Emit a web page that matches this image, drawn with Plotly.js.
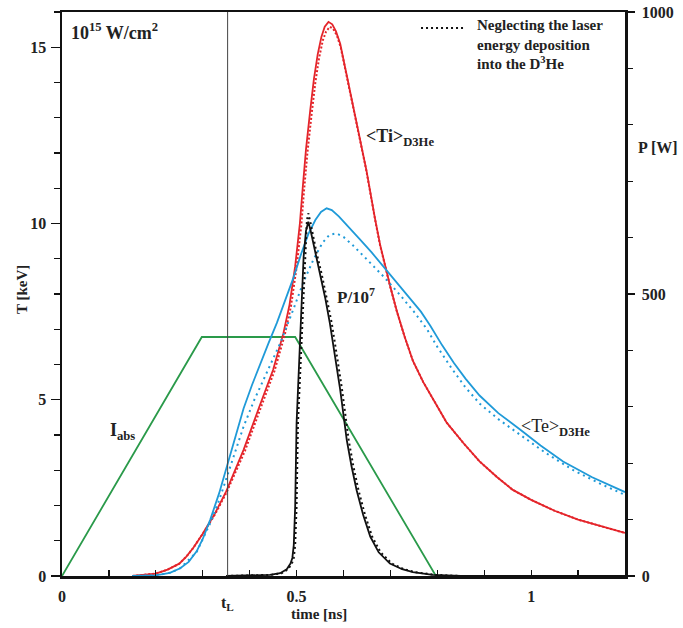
<!DOCTYPE html>
<html>
<head>
<meta charset="utf-8">
<script src="https://cdn.plot.ly/plotly-3.0.1.min.js"></script>
<style>html,body{margin:0;padding:0;background:#fff;}#chart{width:683px;height:628px;}</style>
</head>
<body>
<div id="chart"></div>
<script>
// ---- data (time in ns, T in keV, P in W/1e7) ----
const tL = 0.353;

const iabsTime = [0, 0.298, 0.497, 0.797];
const iabsVal  = [0, 6.78, 6.78, 0];

const tiTime  = [0.15, 0.18, 0.2, 0.225, 0.25, 0.265, 0.28, 0.30, 0.325, 0.35, 0.387, 0.42, 0.45, 0.472, 0.485, 0.497, 0.507, 0.513, 0.52, 0.529, 0.537, 0.545, 0.553, 0.56, 0.568, 0.576, 0.584, 0.593, 0.607, 0.621, 0.635, 0.649, 0.667, 0.678, 0.699, 0.714, 0.73, 0.748, 0.77, 0.791, 0.82, 0.855, 0.89, 0.927, 0.96, 1.0, 1.05, 1.1, 1.15, 1.2];
const tiSolid = [0, 0.03, 0.07, 0.18, 0.35, 0.55, 0.8, 1.2, 1.75, 2.4, 3.58, 4.78, 5.85, 6.89, 7.7, 8.79, 10.0, 11.0, 12.1, 13.2, 14.1, 14.8, 15.3, 15.58, 15.72, 15.65, 15.45, 15.1, 14.2, 13.33, 12.45, 11.5, 10.15, 9.4, 8.25, 7.5, 6.8, 6.1, 5.5, 5.0, 4.35, 3.78, 3.25, 2.81, 2.45, 2.16, 1.85, 1.6, 1.4, 1.22];

const tiDotTime = [0.15, 0.18, 0.2, 0.225, 0.25, 0.265, 0.28, 0.30, 0.325, 0.35, 0.39, 0.423, 0.453, 0.475, 0.488, 0.5, 0.51, 0.516, 0.523, 0.532, 0.54, 0.548, 0.556, 0.563, 0.571, 0.578, 0.586, 0.594, 0.607, 0.621, 0.635, 0.649, 0.667, 0.678, 0.699, 0.714, 0.73, 0.748, 0.77, 0.791, 0.82, 0.855, 0.89, 0.927, 0.96, 1.0, 1.05, 1.1, 1.15, 1.2];
const tiDot     = [0, 0.03, 0.07, 0.18, 0.35, 0.55, 0.8, 1.2, 1.72, 2.35, 3.55, 4.75, 5.82, 6.85, 7.65, 8.75, 9.95, 10.95, 12.0, 13.1, 14.0, 14.7, 15.2, 15.45, 15.58, 15.52, 15.33, 15.0, 14.15, 13.3, 12.42, 11.48, 10.13, 9.38, 8.23, 7.49, 6.8, 6.1, 5.5, 5.0, 4.35, 3.78, 3.25, 2.81, 2.45, 2.16, 1.85, 1.6, 1.4, 1.22];

const teTime  = [0.15, 0.2, 0.23, 0.252, 0.27, 0.287, 0.30, 0.316, 0.335, 0.351, 0.37, 0.387, 0.405, 0.422, 0.44, 0.458, 0.475, 0.493, 0.51, 0.525, 0.54, 0.552, 0.564, 0.575, 0.59, 0.61, 0.635, 0.66, 0.685, 0.71, 0.74, 0.765, 0.785, 0.81, 0.835, 0.86, 0.89, 0.93, 0.977, 1.02, 1.068, 1.13, 1.2];
const teSolid = [0, 0.02, 0.09, 0.22, 0.4, 0.7, 1.05, 1.6, 2.35, 3.1, 4.0, 4.75, 5.42, 6.02, 6.6, 7.18, 7.8, 8.45, 9.15, 9.7, 10.1, 10.33, 10.43, 10.38, 10.2, 9.92, 9.55, 9.18, 8.78, 8.38, 7.9, 7.5, 7.1, 6.55, 6.05, 5.6, 5.12, 4.62, 4.15, 3.7, 3.25, 2.8, 2.38];

const teDotTime = [0.15, 0.2, 0.23, 0.252, 0.287, 0.316, 0.335, 0.358, 0.387, 0.41, 0.436, 0.465, 0.493, 0.515, 0.536, 0.555, 0.57, 0.585, 0.60, 0.62, 0.65, 0.685, 0.72, 0.75, 0.778, 0.80, 0.83, 0.86, 0.891, 0.93, 0.977, 1.03, 1.09, 1.15, 1.2];
const teDot     = [0, 0.02, 0.09, 0.22, 0.68, 1.5, 2.15, 3.1, 4.24, 5.0, 5.76, 6.6, 7.56, 8.35, 8.98, 9.45, 9.68, 9.72, 9.62, 9.38, 8.98, 8.5, 7.98, 7.5, 7.0, 6.5, 5.9, 5.35, 4.88, 4.45, 4.0, 3.5, 3.0, 2.6, 2.3];

const pTime  = [0.35, 0.40, 0.443, 0.465, 0.479, 0.487, 0.491, 0.494, 0.497, 0.500, 0.504, 0.507, 0.511, 0.515, 0.520, 0.525, 0.530, 0.540, 0.550, 0.561, 0.571, 0.582, 0.593, 0.607, 0.617, 0.628, 0.642, 0.657, 0.675, 0.699, 0.725, 0.748, 0.79, 0.85, 1.2];
const pSolid = [0, 0.5, 2, 5, 12, 22, 32, 55, 123, 271, 350, 418, 490, 566, 612, 628, 612, 575, 537, 493, 448, 390, 330, 241, 195, 152, 108, 70, 42, 22, 12, 7, 2, 0, 0];

const pDotTime = [0.35, 0.40, 0.446, 0.468, 0.482, 0.490, 0.494, 0.497, 0.500, 0.503, 0.507, 0.510, 0.514, 0.518, 0.522, 0.525, 0.530, 0.542, 0.553, 0.564, 0.575, 0.586, 0.597, 0.611, 0.621, 0.632, 0.646, 0.661, 0.679, 0.703, 0.729, 0.752, 0.794, 0.85, 1.2];
const pDot     = [0, 0.5, 2, 5, 12, 22, 32, 55, 123, 271, 350, 418, 495, 575, 630, 643, 625, 575, 537, 493, 448, 390, 330, 241, 195, 152, 108, 70, 42, 22, 12, 7, 2, 0, 0];

const xTickVals = [0, 0.5, 1];
const xTickText = ['0', '0.5', '1'];
const yTickVals = [0, 5, 10, 15];
const yTickText = ['0', '5', '10', '15'];
const y2TickVals = [0, 500, 1000];
const y2TickText = ['0', '500', '1000'];
const legendText = 'Neglecting the laser<br>energy deposition<br>into the D<sup>3</sup>He';

// ---- styling ----
const RED = '#e4252b', BLUE = '#1f9ad8', GREEN = '#2a9a4a', BLACK = '#111111';
const SERIF = 'Liberation Serif, Times New Roman, serif';
const LW = 1.8;
const bold = arr => arr.map(s => '<b>' + s + '</b>');

const traces = [
  {x: iabsTime, y: iabsVal, mode: 'lines', line: {color: GREEN, width: LW}},
  {x: tiTime, y: tiSolid, mode: 'lines', line: {color: RED, width: LW}},
  {x: tiDotTime, y: tiDot, mode: 'lines', line: {color: RED, width: 2, dash: '2px,2px'}},
  {x: teTime, y: teSolid, mode: 'lines', line: {color: BLUE, width: LW}},
  {x: teDotTime, y: teDot, mode: 'lines', line: {color: BLUE, width: 2, dash: '2px,4px'}},
  {x: pTime, y: pSolid, yaxis: 'y2', mode: 'lines', line: {color: BLACK, width: LW}},
  {x: pDotTime, y: pDot, yaxis: 'y2', mode: 'lines', line: {color: BLACK, width: 2, dash: '2px,3px'}}
];

const tickFont = {family: SERIF, size: 16, color: '#222'};

const layout = {
  width: 683, height: 628,
  margin: {l: 62, r: 58, t: 12, b: 52},
  paper_bgcolor: '#fff', plot_bgcolor: '#fff',
  showlegend: false,
  xaxis: {
    range: [0, 1.2], showgrid: false, zeroline: false,
    showline: true, linecolor: '#111', linewidth: 2.5, mirror: true,
    tickvals: xTickVals, ticktext: bold(xTickText), ticks: 'inside', ticklen: 6, tickwidth: 1.2, tickcolor: '#111',
    minor: {dtick: 0.1, ticks: 'inside', ticklen: 6, tickwidth: 1.2, tickcolor: '#111', showgrid: false},
    tickfont: tickFont, ticklabelstandoff: 4
  },
  yaxis: {
    range: [0, 16], showgrid: false, zeroline: false,
    showline: true, linecolor: '#111', linewidth: 2.5,
    tickvals: yTickVals, ticktext: bold(yTickText), ticks: 'outside', ticklen: 9, tickwidth: 1.2, tickcolor: '#111',
    minor: {dtick: 1, ticks: 'outside', ticklen: 6, tickwidth: 1.2, tickcolor: '#111', showgrid: false},
    tickfont: tickFont, ticklabelstandoff: 1
  },
  yaxis2: {
    range: [0, 1000], overlaying: 'y', side: 'right', showgrid: false, zeroline: false,
    showline: true, linecolor: '#111', linewidth: 2.5,
    tickvals: y2TickVals, ticktext: bold(y2TickText), ticks: 'outside', ticklen: 7, tickwidth: 1.2, tickcolor: '#111',
    minor: {dtick: 100, ticks: 'outside', ticklen: 5, tickwidth: 1.2, tickcolor: '#111', showgrid: false},
    tickfont: tickFont, ticklabelstandoff: 4
  },
  shapes: [
    {type: 'line', xref: 'x', yref: 'paper', x0: tL, x1: tL, y0: 0, y1: 1, line: {color: '#444', width: 1}},
    // legend key (dotted sample)
    {type: 'line', xref: 'paper', yref: 'paper', x0: 0.6377, x1: 0.7176, y0: 0.9716, y1: 0.9716,
     line: {color: BLACK, width: 2, dash: '2px,3px'}}
  ],
  annotations: [
    {xref: 'paper', yref: 'paper', x: 0.7336, y: 0.995, xanchor: 'left', yanchor: 'top', align: 'left', showarrow: false,
     text: legendText, font: {family: SERIF, size: 15, color: '#222', weight: 'bold'}},
    {xref: 'paper', yref: 'paper', x: 0.012, y: 0.99, xanchor: 'left', yanchor: 'top', showarrow: false,
     text: '10<sup>15</sup> W/cm<sup>2</sup>', font: {family: SERIF, size: 18, color: '#222', weight: 'bold'}},
    {xref: 'x', yref: 'y', x: 0.644, y: 12.45, xanchor: 'left', yanchor: 'middle', showarrow: false,
     text: '&lt;Ti&gt;<sub>D3He</sub>', font: {family: SERIF, size: 18, color: '#222', weight: 'bold'}},
    {xref: 'x', yref: 'y', x: 0.582, y: 7.95, xanchor: 'left', yanchor: 'middle', showarrow: false,
     text: 'P/10<sup>7</sup>', font: {family: SERIF, size: 17, color: '#222', weight: 'bold'}},
    {xref: 'x', yref: 'y', x: 0.975, y: 4.2, xanchor: 'left', yanchor: 'middle', showarrow: false,
     text: '&lt;Te&gt;<sub><b>D3He</b></sub>', font: {family: SERIF, size: 18, color: '#222'}},
    {xref: 'x', yref: 'y', x: 0.097, y: 4.1, xanchor: 'left', yanchor: 'middle', showarrow: false,
     text: 'I<sub>abs</sub>', font: {family: SERIF, size: 18, color: '#222', weight: 'bold'}},
    {xref: 'x', yref: 'paper', x: tL, y: -0.029, xanchor: 'center', yanchor: 'top', showarrow: false,
     text: 't<sub>L</sub>', font: {family: SERIF, size: 16, color: '#222', weight: 'bold'}},
    {xref: 'x', yref: 'paper', x: 0.547, y: -0.049, xanchor: 'center', yanchor: 'top', showarrow: false,
     text: 'time [ns]', font: {family: SERIF, size: 15, color: '#222', weight: 'bold'}},
    {xref: 'paper', yref: 'paper', x: -0.071, y: 0.507, xanchor: 'center', yanchor: 'middle', showarrow: false, textangle: -90,
     text: 'T [keV]', font: {family: SERIF, size: 15, color: '#222', weight: 'bold'}},
    {xref: 'paper', yref: 'paper', x: 1.058, y: 0.76, xanchor: 'center', yanchor: 'middle', showarrow: false,
     text: 'P [W]', font: {family: SERIF, size: 16, color: '#222', weight: 'bold'}}
  ]
};

Plotly.newPlot('chart', traces, layout, {displayModeBar: false, staticPlot: true});
</script>
</body>
</html>
